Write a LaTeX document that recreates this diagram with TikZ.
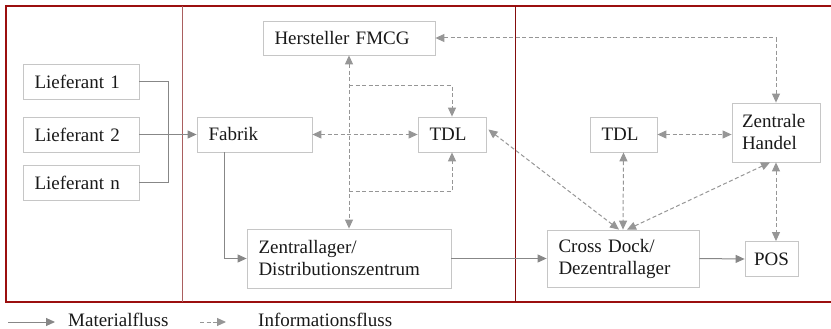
\documentclass[tikz,border=0pt]{standalone}
\usepackage{fontspec}
\setmainfont{Liberation Serif}
\newfontfamily\diagfont{Liberation Serif}
\usepackage{xcolor}
\usetikzlibrary{arrows.meta,positioning}
\definecolor{framered}{RGB}{155,15,15}
\definecolor{divred}{RGB}{170,95,95}
\definecolor{boxgray}{RGB}{198,198,198}
\definecolor{flowgray}{RGB}{135,135,135}
\definecolor{dashgray}{RGB}{150,150,150}

\begin{document}
\begin{tikzpicture}[
    x=1pt, y=-1pt,
    >={Triangle[length=9pt,width=8pt]},
    every node/.style={font=\diagfont\fontsize{19}{22}\selectfont, text=black!90},
    box/.style={draw=boxgray, line width=0.8pt, rectangle, inner xsep=11.5pt, inner ysep=3pt, align=left},
    mat/.style={draw=flowgray, line width=1pt},
    info/.style={draw=dashgray, line width=1pt, dash pattern=on 4pt off 2.5pt},
    legend/.style={anchor=base west, inner sep=0pt}
]
    \useasboundingbox (0,0) rectangle (831,329);

    \draw[framered, line width=2pt] (831,6.5) -- (6,6.5) -- (6,302) -- (831,302);
    \draw[divred, line width=0.9pt] (182,6.5) -- (182,302);
    \draw[framered!85!black, line width=0.9pt] (515,6.5) -- (515,302);

    \node[box, text width=93pt, minimum height=35pt] (lief1) at (81,81.5) {Lieferant 1};
    \node[box, text width=93pt, minimum height=35pt] (lief2) at (81,134.5) {Lieferant 2};
    \node[box, text width=93pt, minimum height=35pt] (liefn) at (81,182.5) {Lieferant n};
    \node[box, text width=92pt, minimum height=35pt] (fabrik) at (254.5,134.5) {Fabrik};
    \node[box, text width=149pt, minimum height=34pt] (herst) at (349,38) {Hersteller FMCG};
    \node[box, text width=45pt, minimum height=35pt] (tdla) at (452,134.5) {TDL};
    \node[box, text width=181pt, minimum height=59pt] (zlager) at (349,258.5) {Zentrallager/\\Distributionszentrum};
    \node[box, text width=44pt, minimum height=35pt] (tdlb) at (623.5,134.5) {TDL};
    \node[box, inner xsep=10pt, text width=68pt, minimum height=59pt] (zhandel) at (776,132.5) {Zentrale\\Handel};
    \node[box, text width=129pt, minimum height=57pt] (xdock) at (623,258.5) {Cross Dock/\\Dezentrallager};
    \node[box, inner xsep=9pt, text width=35pt, minimum height=35pt] (pos) at (771.5,259) {POS};

    \coordinate (bus1) at (168,81.5);
    \coordinate (bus2) at (168,182.5);
    \coordinate (j1) at (349,86);
    \coordinate (j2) at (349,191);

    \draw[mat] (lief1.east) -- (bus1) -- (bus2) -- (liefn.east);
    \draw[mat, ->] (lief2.east) -- (fabrik.west);
    \draw[mat, ->] ([xshift=-30.5pt]fabrik.south) |- (zlager.west);
    \draw[mat, ->] (zlager.east) -- (xdock.west);
    \draw[mat, ->] (xdock.east) -- (pos.west);

    \draw[info, <->] (herst.south) -- (zlager.north);
    \draw[info, ->] (j1) -| (tdla.north);
    \draw[info, ->] (j2) -| (tdla.south);
    \draw[info, <->] (fabrik.east) -- (tdla.west);
    \draw[info, <->] (herst.east) -| (zhandel.north);
    \draw[info, <->] ([xshift=2pt,yshift=5pt]tdla.east) -- ([xshift=-4pt]xdock.north);
    \draw[info, <->] (tdlb.south) -- (xdock.north);
    \draw[info, <->] ([xshift=-6pt]zhandel.south) -- ([xshift=4pt]xdock.north);
    \draw[info, <->] (tdlb.east) -- (tdlb.east -| zhandel.west);
    \draw[info, <->] (zhandel.south) -- (zhandel.south |- pos.north);

    \coordinate (m1) at (8,322);
    \coordinate (m2) at (55,322);
    \coordinate (i1) at (200,322);
    \coordinate (i2) at (226,322);
    \draw[mat, ->] (m1) -- (m2);
    \node[legend] (mlab) at (68,326) {Materialfluss};
    \draw[info, ->] (i1) -- (i2);
    \node[legend] (ilab) at (258,326) {Informationsfluss};
\end{tikzpicture}
\end{document}
